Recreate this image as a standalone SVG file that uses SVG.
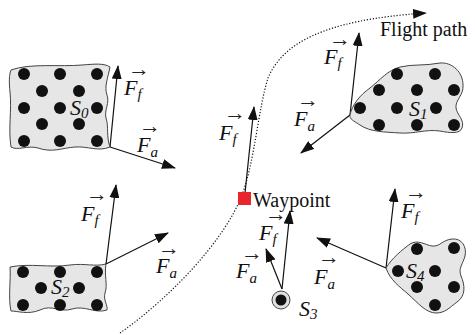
<svg xmlns="http://www.w3.org/2000/svg" width="475" height="335" viewBox="0 0 475 335">
<style>
.blob{fill:#e6e6e6;stroke:#444;stroke-width:1}
.dot{fill:#111}
text{font-family:'Liberation Serif','Times New Roman',serif;fill:#111}
.F{font-style:italic;font-size:22px}
.sub{font-size:15px}
.vec{font-size:22px;font-style:normal;fill:#222}
.lbl{font-size:20px}
.arr{stroke:#111;stroke-width:1.2;fill:none;marker-end:url(#ah)}
.fp{stroke:#111;stroke-width:1.2;fill:none;stroke-dasharray:1.2 1.8;marker-end:url(#ah)}
</style>
<defs>
<marker id="ah" viewBox="0 0 14 10" refX="13" refY="5" markerWidth="14" markerHeight="10" orient="auto" markerUnits="userSpaceOnUse"><path d="M0,0 L14,5 L0,10 z" fill="#111"/></marker>
</defs>

<g id="connectors">
<path class="fp" d="M120,333 C170,298 225,240 242,195 C255,160 258,110 268,78 C282,45 320,20 426,13"/>
<line class="arr" x1="110" y1="147" x2="118" y2="66"/>
<line class="arr" x1="110" y1="147" x2="175" y2="168"/>
<line class="arr" x1="350" y1="115" x2="359" y2="33"/>
<line class="arr" x1="350" y1="115" x2="301" y2="153"/>
<line class="arr" x1="245" y1="193" x2="254" y2="107"/>
<line class="arr" x1="106" y1="264" x2="116" y2="185"/>
<line class="arr" x1="106" y1="264" x2="168" y2="233"/>
<line class="arr" x1="282" y1="289" x2="290" y2="211"/>
<line class="arr" x1="282" y1="289" x2="266" y2="249"/>
<line class="arr" x1="386" y1="268" x2="395" y2="189"/>
<line class="arr" x1="386" y1="268" x2="317" y2="238"/>
</g>

<g id="S0">
<path class="blob" d="M11,70 C30,63 60,67 82,65 C95,64 104,63 110,67 C108,78 104,86 107,95 C110,103 104,110 106,118 C109,127 106,136 110,147 C98,152 88,146 75,147 C62,148 52,153 38,148 C27,145 18,151 11,147 C8,128 12,110 10,92 C9,82 9,75 11,70 Z"/>
<circle class="dot" cx="24" cy="74" r="6"/><circle class="dot" cx="60" cy="74" r="6"/><circle class="dot" cx="97" cy="74" r="6"/>
<circle class="dot" cx="42" cy="91" r="6"/><circle class="dot" cx="79" cy="91" r="6"/>
<circle class="dot" cx="24" cy="108" r="6"/><circle class="dot" cx="60" cy="108" r="6"/><circle class="dot" cx="97" cy="108" r="6"/>
<circle class="dot" cx="42" cy="124" r="6"/><circle class="dot" cx="79" cy="124" r="6"/>
<circle class="dot" cx="24" cy="141" r="6"/><circle class="dot" cx="60" cy="141" r="6"/><circle class="dot" cx="97" cy="141" r="6"/>
<text class="F" x="70" y="115">S<tspan class="sub" dy="3">0</tspan></text>
</g>

<g id="S1">
<path class="blob" d="M350,115 C352,105 360,95 370,88 C380,80 388,70 400,67 C412,64 425,66 440,63 C452,62 463,72 463,85 C464,95 455,100 456,108 C457,115 465,120 462,128 C460,134 450,133 440,131 C425,129 415,134 400,133 C385,132 370,132 360,125 C354,121 349,119 350,115 Z"/>
<circle class="dot" cx="397" cy="74" r="6"/><circle class="dot" cx="435" cy="74" r="6"/>
<circle class="dot" cx="379" cy="90" r="6"/><circle class="dot" cx="417" cy="90" r="6"/><circle class="dot" cx="454" cy="90" r="6"/>
<circle class="dot" cx="360" cy="108" r="6"/><circle class="dot" cx="397" cy="108" r="6"/><circle class="dot" cx="436" cy="108" r="6"/>
<circle class="dot" cx="379" cy="125" r="6"/><circle class="dot" cx="417" cy="125" r="6"/><circle class="dot" cx="454" cy="125" r="6"/>
<text class="F" x="409" y="116">S<tspan class="sub" dy="3">1</tspan></text>
</g>

<g id="S2">
<path class="blob" d="M10,267 C30,263 50,268 70,265 C85,263 95,267 106,264 C104,275 108,285 105,293 C103,300 108,305 107,310 C95,314 85,305 72,309 C60,313 52,304 40,310 C28,315 18,311 11,311 C8,298 11,280 10,267 Z"/>
<circle class="dot" cx="23" cy="272" r="6"/><circle class="dot" cx="60" cy="272" r="6"/><circle class="dot" cx="97" cy="272" r="6"/>
<circle class="dot" cx="41" cy="288" r="6"/><circle class="dot" cx="79" cy="288" r="6"/>
<circle class="dot" cx="23" cy="305" r="6"/><circle class="dot" cx="60" cy="305" r="6"/><circle class="dot" cx="97" cy="305" r="6"/>
<text class="F" x="51" y="294">S<tspan class="sub" dy="3">2</tspan></text>
</g>

<g id="S3">
<circle cx="281" cy="300" r="9" fill="#e0e0e0" stroke="#444" stroke-width="1"/>
<circle class="dot" cx="281" cy="300" r="5.5"/>
<text class="F" x="299" y="316">S<tspan class="sub" dy="3">3</tspan></text>
</g>

<g id="S4">
<path class="blob" d="M386,268 C392,258 402,250 410,244 C418,239 425,245 432,246 C440,247 442,240 452,239 C462,238 467,247 465,256 C463,264 458,268 461,276 C465,285 466,296 457,302 C449,308 445,313 436,313 C426,313 418,303 408,294 C400,287 390,280 386,268 Z"/>
<circle class="dot" cx="417" cy="249" r="6"/><circle class="dot" cx="454" cy="248" r="6"/>
<circle class="dot" cx="398" cy="271" r="6"/><circle class="dot" cx="435" cy="271" r="6"/>
<circle class="dot" cx="417" cy="287" r="6"/><circle class="dot" cx="454" cy="287" r="6"/>
<circle class="dot" cx="435" cy="305" r="6"/>
<text class="F" x="406" y="278">S<tspan class="sub" dy="3">4</tspan></text>
</g>

<g id="waypoint">
<rect x="238" y="192" width="13" height="13" fill="#e8262b"/>
<text class="lbl" x="253" y="207">Waypoint</text>
</g>

<g id="flight-path-label">
<text class="lbl" x="380" y="36">Flight path</text>
</g>

<g id="labels">
<text class="F"><tspan class="vec" x="128" y="76">→</tspan><tspan x="124" y="95">F</tspan><tspan class="sub" dy="4">f</tspan></text>
<text class="F"><tspan class="vec" x="139" y="133">→</tspan><tspan x="137" y="152">F</tspan><tspan class="sub" dy="5">a</tspan></text>
<text class="F"><tspan class="vec" x="329" y="46">→</tspan><tspan x="324" y="64">F</tspan><tspan class="sub" dy="4">f</tspan></text>
<text class="F"><tspan class="vec" x="297" y="107">→</tspan><tspan x="294" y="126">F</tspan><tspan class="sub" dy="5">a</tspan></text>
<text class="F"><tspan class="vec" x="224" y="120">→</tspan><tspan x="219" y="140">F</tspan><tspan class="sub" dy="4">f</tspan></text>
<text class="F"><tspan class="vec" x="86" y="201">→</tspan><tspan x="81" y="221">F</tspan><tspan class="sub" dy="4">f</tspan></text>
<text class="F"><tspan class="vec" x="158" y="255">→</tspan><tspan x="156" y="273">F</tspan><tspan class="sub" dy="5">a</tspan></text>
<text class="F"><tspan class="vec" x="265" y="221">→</tspan><tspan x="259" y="240">F</tspan><tspan class="sub" dy="4">f</tspan></text>
<text class="F"><tspan class="vec" x="241" y="260">→</tspan><tspan x="236" y="278">F</tspan><tspan class="sub" dy="5">a</tspan></text>
<text class="F"><tspan class="vec" x="318" y="264">→</tspan><tspan x="314" y="284">F</tspan><tspan class="sub" dy="5">a</tspan></text>
<text class="F"><tspan class="vec" x="405" y="199">→</tspan><tspan x="401" y="218">F</tspan><tspan class="sub" dy="4">f</tspan></text>
</g>
</svg>
